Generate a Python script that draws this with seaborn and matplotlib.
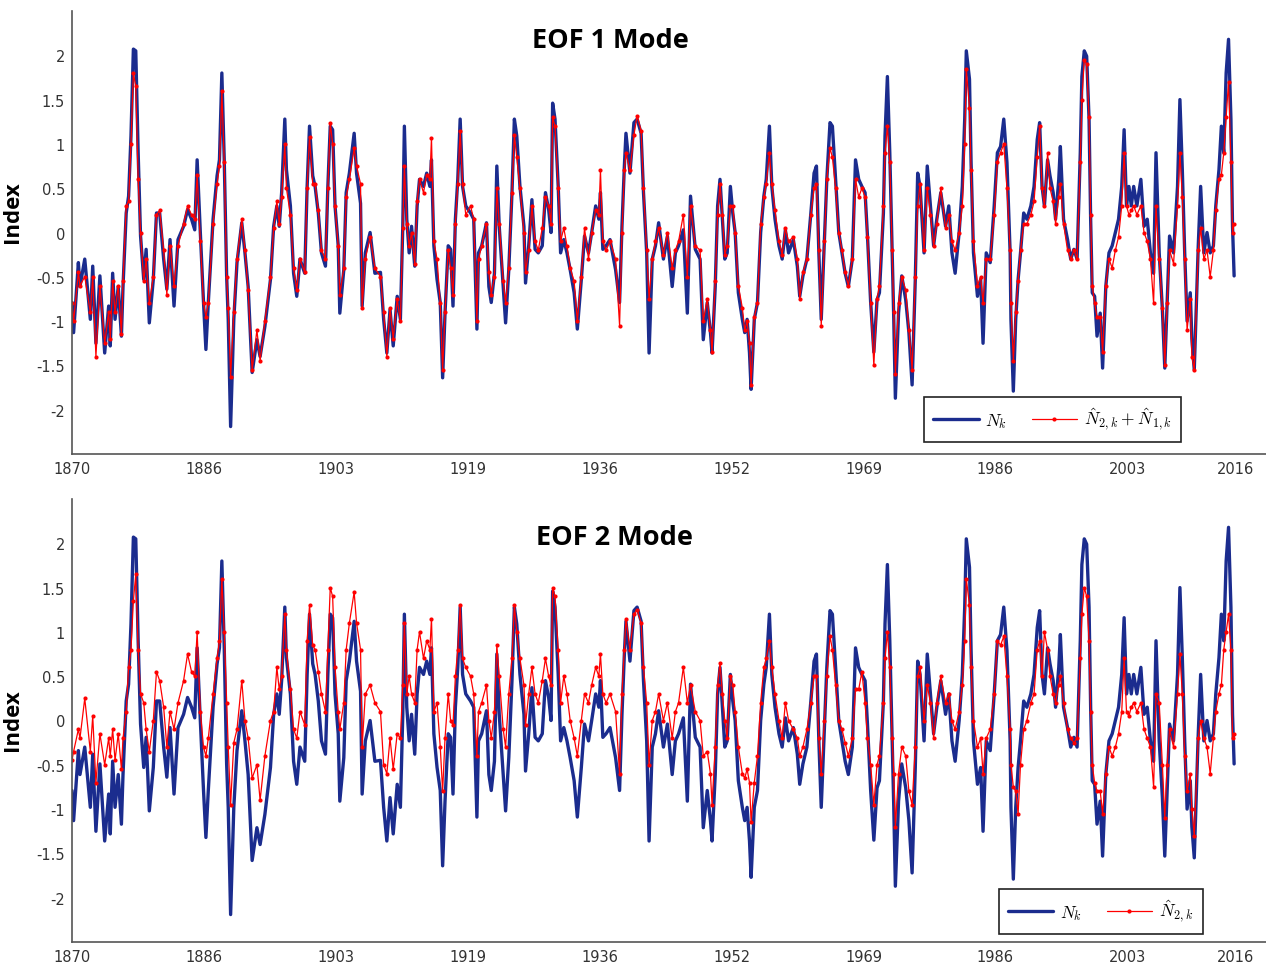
import numpy as np
import pandas as pd
import matplotlib
matplotlib.use("Agg")
import matplotlib.pyplot as plt
import seaborn as sns

# values (turning points of each curve)
years = [
    1870.0, 1870.2, 1870.8, 1871.0, 1871.6, 1872.3, 1872.6, 1873.0, 1873.5, 1874.1,
    1874.6, 1874.8, 1875.1, 1875.4, 1875.8, 1876.2, 1876.4, 1876.8, 1877.1, 1877.4,
    1877.7, 1878.0, 1878.3, 1878.6, 1879.0, 1879.3, 1879.7, 1880.2, 1880.6, 1881.0,
    1881.5, 1881.9, 1882.3, 1882.8, 1883.3, 1884.0, 1884.5, 1885.0, 1885.4, 1885.7,
    1886.1, 1886.5, 1886.8, 1887.1, 1887.7, 1888.2, 1888.5, 1888.8, 1889.1, 1889.4,
    1889.6, 1889.9, 1890.3, 1890.7, 1891.3, 1891.7, 1892.1, 1892.6, 1893.2, 1893.6,
    1894.2, 1894.9, 1895.3, 1895.7, 1896.0, 1896.3, 1896.7, 1896.9, 1897.4, 1897.8,
    1898.2, 1898.6, 1899.2, 1899.5, 1899.8, 1900.2, 1900.5, 1900.9, 1901.3, 1901.8,
    1902.1, 1902.4, 1902.7, 1903.0, 1903.4, 1903.6, 1904.1, 1904.4, 1904.8, 1905.4,
    1905.7, 1906.2, 1906.4, 1906.8, 1907.4, 1908.0, 1908.7, 1909.1, 1909.5, 1909.9,
    1910.3, 1910.8, 1911.2, 1911.5, 1911.7, 1912.0, 1912.3, 1912.6, 1913.0, 1913.3,
    1913.6, 1914.1, 1914.5, 1914.9, 1915.1, 1915.4, 1915.8, 1916.2, 1916.5, 1916.8,
    1917.2, 1917.5, 1917.8, 1918.1, 1918.4, 1918.7, 1919.0, 1919.4, 1920.0, 1920.4,
    1920.8, 1921.0, 1921.4, 1922.0, 1922.3, 1922.6, 1923.0, 1923.3, 1923.6, 1924.1,
    1924.4, 1924.8, 1925.2, 1925.5, 1925.8, 1926.2, 1926.7, 1926.9, 1927.3, 1927.7,
    1928.1, 1928.5, 1929.0, 1929.4, 1929.8, 1930.1, 1930.3, 1930.6, 1931.0, 1931.3,
    1931.7, 1932.1, 1932.5, 1933.0, 1933.4, 1933.9, 1934.3, 1934.8, 1935.2, 1935.7,
    1936.1, 1936.3, 1936.6, 1937.0, 1937.5, 1938.2, 1938.7, 1939.0, 1939.3, 1939.5,
    1940.0, 1940.5, 1940.9, 1941.4, 1941.7, 1942.1, 1942.4, 1942.8, 1943.2, 1943.6,
    1944.2, 1944.7, 1945.3, 1945.7, 1946.1, 1946.7, 1947.2, 1947.6, 1948.2, 1948.8,
    1949.2, 1949.7, 1950.1, 1950.3, 1950.7, 1951.0, 1951.3, 1951.6, 1951.9, 1952.2,
    1952.6, 1952.9, 1953.2, 1953.6, 1954.1, 1954.4, 1954.7, 1955.0, 1955.2, 1955.6,
    1956.0, 1956.4, 1956.8, 1957.1, 1957.5, 1957.8, 1958.2, 1958.7, 1959.1, 1959.5,
    1959.9, 1960.5, 1961.0, 1961.3, 1961.7, 1962.2, 1962.7, 1963.1, 1963.4, 1963.7,
    1964.0, 1964.4, 1964.7, 1965.1, 1965.4, 1965.8, 1966.2, 1966.6, 1967.0, 1967.4,
    1967.9, 1968.3, 1968.7, 1969.1, 1969.5, 1969.8, 1970.2, 1970.6, 1971.0, 1971.3,
    1971.8, 1972.0, 1972.3, 1972.6, 1972.9, 1973.1, 1973.3, 1973.7, 1974.1, 1974.6,
    1975.0, 1975.4, 1975.8, 1976.1, 1976.4, 1976.9, 1977.3, 1977.7, 1978.1, 1978.5,
    1979.0, 1979.6, 1980.0, 1980.4, 1980.8, 1981.3, 1981.7, 1982.0, 1982.2, 1982.6,
    1982.8, 1983.1, 1983.6, 1984.0, 1984.3, 1984.7, 1985.2, 1985.7, 1986.1, 1986.5,
    1986.9, 1987.3, 1987.7, 1987.8, 1988.1, 1988.4, 1988.7, 1989.0, 1989.4, 1989.8,
    1990.3, 1990.7, 1991.1, 1991.4, 1991.7, 1992.0, 1992.4, 1992.7, 1993.1, 1993.4,
    1993.8, 1994.0, 1994.4, 1994.9, 1995.3, 1995.7, 1996.1, 1996.5, 1996.7, 1997.0,
    1997.3, 1997.6, 1997.8, 1998.0, 1998.3, 1998.6, 1999.0, 1999.3, 1999.7, 2000.1,
    2000.5, 2000.9, 2001.3, 2001.7, 2002.0, 2002.3, 2002.6, 2002.9, 2003.2, 2003.6,
    2004.1, 2004.5, 2004.9, 2005.3, 2005.7, 2006.0, 2006.4, 2006.8, 2007.1, 2007.4,
    2007.7, 2008.2, 2008.7, 2009.0, 2009.3, 2009.6, 2009.9, 2010.3, 2010.5, 2010.8,
    2011.3, 2011.6, 2012.0, 2012.4, 2012.8, 2013.2, 2013.5, 2013.9, 2014.2, 2014.5,
    2014.8, 2015.1, 2015.4, 2015.6, 2015.8,
]

# N_k (observed index, same in both panels)
n_k = [
    -0.79, -1.13, -0.34, -0.61, -0.30, -0.98, -0.38, -1.25, -0.49, -1.36,
    -0.83, -1.28, -0.46, -0.98, -0.61, -1.17, -0.61, 0.22, 0.41, 1.09,
    2.07, 2.05, 0.90, -0.04, -0.53, -0.19, -1.02, -0.53, 0.22, 0.22,
    -0.30, -0.64, -0.08, -0.83, -0.08, 0.07, 0.26, 0.15, 0.03, 0.82,
    0.00, -0.79, -1.32, -0.79, 0.15, 0.64, 0.82, 1.80, 0.82, -0.49,
    -0.98, -2.19, -0.98, -0.34, 0.11, -0.23, -0.61, -1.58, -1.21, -1.40,
    -1.06, -0.53, 0.07, 0.30, 0.07, 0.45, 1.28, 0.71, 0.30, -0.46,
    -0.72, -0.30, -0.46, 0.52, 1.20, 0.64, 0.52, 0.22, -0.23, -0.38,
    0.52, 1.20, 1.16, 0.30, -0.15, -0.91, -0.42, 0.45, 0.67, 1.12,
    0.67, 0.33, -0.83, -0.23, 0.00, -0.46, -0.45, -0.98, -1.36, -0.87,
    -1.28, -0.72, -0.98, 0.07, 1.20, 0.15, -0.23, 0.07, -0.38, 0.30,
    0.60, 0.52, 0.67, 0.52, 0.82, -0.15, -0.53, -0.79, -1.64, -0.91,
    -0.15, -0.19, -0.83, 0.15, 0.60, 1.28, 0.52, 0.30, 0.22, 0.15,
    -1.09, -0.23, -0.15, 0.11, -0.61, -0.79, -0.46, 0.75, 0.07, -0.61,
    -1.02, -0.42, 0.45, 1.28, 1.09, 0.52, 0.07, -0.57, -0.15, 0.37,
    -0.19, -0.23, -0.15, 0.45, 0.26, 0.00, 1.46, 1.28, 0.52, -0.23,
    -0.08, -0.23, -0.42, -0.68, -1.09, -0.53, -0.04, -0.23, 0.00, 0.30,
    0.15, 0.45, -0.19, -0.15, -0.08, -0.42, -0.79, 0.07, 0.75, 1.12,
    0.67, 1.24, 1.28, 1.12, 0.45, -0.23, -1.36, -0.30, -0.15, 0.11,
    -0.30, -0.04, -0.61, -0.23, -0.15, 0.03, -0.91, 0.41, -0.19, -0.30,
    -1.21, -0.79, -1.13, -1.36, -0.61, 0.30, 0.60, 0.15, -0.30, -0.23,
    0.52, 0.22, 0.00, -0.68, -0.98, -1.13, -0.98, -1.36, -1.77, -0.98,
    -0.79, 0.00, 0.41, 0.60, 1.20, 0.52, 0.15, -0.15, -0.30, 0.03,
    -0.23, -0.08, -0.38, -0.72, -0.49, -0.30, 0.22, 0.67, 0.75, -0.23,
    -0.98, -0.08, 0.60, 1.24, 1.20, 0.60, 0.00, -0.23, -0.46, -0.61,
    -0.30, 0.82, 0.60, 0.52, 0.45, -0.04, -0.79, -1.35, -0.76, -0.68,
    0.22, 1.09, 1.76, 0.90, -0.23, -0.98, -1.87, -0.91, -0.49, -0.76,
    -1.13, -1.72, -0.53, 0.67, 0.52, -0.23, 0.75, 0.30, -0.15, 0.15,
    0.45, 0.07, 0.30, -0.23, -0.46, 0.00, 0.52, 1.28, 2.05, 1.73,
    0.79, -0.23, -0.72, -0.53, -1.25, -0.23, -0.34, 0.30, 0.90, 0.97,
    1.28, 0.79, -0.23, -0.98, -1.79, -0.98, -0.53, -0.23, 0.22, 0.15,
    0.30, 0.52, 1.05, 1.24, 0.52, 0.30, 0.82, 0.64, 0.45, 0.15,
    0.60, 0.97, 0.15, -0.08, -0.30, -0.19, -0.30, 0.90, 1.76, 2.05,
    1.99, 1.28, 0.15, -0.68, -0.72, -1.17, -0.91, -1.53, -0.61, -0.23,
    -0.15, 0.00, 0.15, 0.52, 1.16, 0.30, 0.52, 0.30, 0.52, 0.30,
    0.60, 0.07, 0.15, -0.23, -0.46, 0.90, -0.23, -0.87, -1.53, -0.79,
    -0.04, -0.23, 0.52, 1.50, 0.71, -0.23, -1.00, -0.68, -1.20, -1.55,
    -0.15, 0.52, -0.23, 0.00, -0.23, -0.15, 0.30, 0.71, 1.20, 0.90,
    1.80, 2.18, 1.28, 0.07, -0.49,
]

# N^_2,k + N^_1,k (EOF 1 panel)
n_hat_sum = [
    -0.80, -1.00, -0.45, -0.60, -0.50, -0.90, -0.50, -1.40, -0.60, -1.25,
    -0.90, -1.20, -0.55, -0.90, -0.60, -1.15, -0.55, 0.30, 0.35, 1.00,
    1.80, 1.65, 0.60, 0.00, -0.55, -0.30, -0.80, -0.50, 0.20, 0.25,
    -0.20, -0.70, -0.15, -0.60, -0.15, 0.10, 0.30, 0.20, 0.15, 0.65,
    -0.10, -0.80, -0.95, -0.80, 0.10, 0.55, 0.75, 1.60, 0.80, -0.50,
    -0.85, -1.63, -0.90, -0.30, 0.15, -0.20, -0.65, -1.55, -1.10, -1.45,
    -1.00, -0.50, 0.05, 0.35, 0.10, 0.40, 1.00, 0.50, 0.20, -0.40,
    -0.65, -0.30, -0.45, 0.50, 1.08, 0.55, 0.55, 0.25, -0.20, -0.30,
    0.50, 1.24, 1.00, 0.30, -0.15, -0.70, -0.40, 0.40, 0.60, 0.95,
    0.75, 0.55, -0.85, -0.30, -0.05, -0.40, -0.50, -0.90, -1.40, -0.85,
    -1.20, -0.75, -1.00, 0.05, 0.75, 0.10, -0.15, 0.00, -0.35, 0.35,
    0.60, 0.45, 0.65, 0.60, 1.07, -0.10, -0.30, -0.80, -1.55, -0.90,
    -0.20, -0.40, -0.70, 0.10, 0.55, 1.15, 0.55, 0.20, 0.30, 0.15,
    -1.00, -0.30, -0.15, 0.10, -0.45, -0.70, -0.50, 0.50, 0.10, -0.55,
    -0.80, -0.40, 0.45, 1.10, 0.85, 0.50, 0.00, -0.45, -0.20, 0.30,
    -0.10, -0.20, 0.05, 0.40, 0.30, 0.10, 1.30, 1.20, 0.50, -0.10,
    0.05, -0.15, -0.40, -0.55, -1.00, -0.50, 0.05, -0.30, 0.00, 0.25,
    0.20, 0.70, -0.10, -0.20, -0.10, -0.30, -1.05, 0.00, 0.70, 0.90,
    0.70, 1.10, 1.32, 1.15, 0.50, -0.20, -0.75, -0.30, -0.10, 0.05,
    -0.25, 0.00, -0.40, -0.20, -0.10, 0.20, -0.50, 0.30, -0.15, -0.20,
    -1.00, -0.75, -1.10, -1.35, -0.55, 0.20, 0.55, 0.20, -0.25, -0.15,
    0.30, 0.30, 0.00, -0.60, -0.85, -1.10, -1.00, -1.25, -1.72, -0.95,
    -0.80, 0.10, 0.40, 0.55, 0.90, 0.55, 0.25, -0.10, -0.25, 0.05,
    -0.10, -0.05, -0.30, -0.75, -0.45, -0.30, 0.20, 0.50, 0.55, -0.20,
    -1.05, -0.10, 0.60, 0.95, 0.85, 0.50, 0.00, -0.20, -0.45, -0.60,
    -0.30, 0.60, 0.40, 0.50, 0.40, -0.05, -0.80, -1.50, -0.75, -0.60,
    0.30, 0.90, 1.20, 0.80, -0.20, -0.90, -1.60, -0.80, -0.50, -0.65,
    -1.10, -1.55, -0.50, 0.30, 0.55, -0.20, 0.50, 0.20, -0.15, 0.10,
    0.50, 0.05, 0.20, -0.10, -0.20, 0.00, 0.30, 1.00, 1.85, 1.40,
    0.70, -0.10, -0.60, -0.50, -0.80, -0.30, -0.30, 0.20, 0.80, 0.90,
    1.00, 0.50, -0.20, -0.80, -1.45, -0.90, -0.55, -0.20, 0.10, 0.10,
    0.20, 0.35, 0.85, 1.20, 0.50, 0.30, 0.90, 0.50, 0.35, 0.10,
    0.40, 0.55, 0.10, -0.20, -0.30, -0.20, -0.30, 0.80, 1.50, 1.95,
    1.90, 1.30, 0.20, -0.60, -0.80, -0.95, -0.95, -1.35, -0.60, -0.30,
    -0.40, -0.20, -0.05, 0.30, 0.90, 0.30, 0.20, 0.25, 0.30, 0.20,
    0.30, 0.00, -0.10, -0.30, -0.80, 0.30, -0.30, -0.85, -1.50, -0.80,
    -0.20, -0.35, 0.30, 0.90, 0.40, -0.30, -1.10, -0.75, -1.40, -1.55,
    -0.20, 0.05, -0.30, -0.20, -0.50, -0.20, 0.25, 0.60, 0.65, 0.90,
    1.30, 1.70, 0.80, 0.00, 0.10,
]

# N^_2,k (EOF 2 panel)
n_hat_2 = [
    -0.45, -0.35, -0.10, -0.20, 0.25, -0.35, 0.05, -0.70, -0.15, -0.50,
    -0.20, -0.40, -0.10, -0.45, -0.15, -0.55, -0.20, 0.10, 0.60, 0.80,
    1.35, 1.65, 0.80, 0.30, 0.20, -0.10, -0.35, 0.00, 0.55, 0.45,
    0.15, -0.30, 0.10, -0.10, 0.20, 0.45, 0.75, 0.55, 0.50, 1.00,
    0.10, -0.30, -0.40, -0.20, 0.30, 0.70, 0.90, 1.60, 1.00, 0.20,
    -0.30, -0.95, -0.25, -0.10, 0.45, 0.00, -0.20, -0.65, -0.50, -0.90,
    -0.40, 0.00, 0.10, 0.60, 0.35, 0.50, 1.20, 0.80, 0.35, -0.10,
    -0.20, 0.10, -0.05, 0.90, 1.30, 0.85, 0.80, 0.55, 0.30, 0.10,
    0.80, 1.50, 1.40, 0.60, 0.10, -0.10, 0.20, 0.80, 1.10, 1.45,
    1.10, 0.80, -0.30, 0.30, 0.40, 0.20, 0.10, -0.50, -0.60, -0.20,
    -0.55, -0.15, -0.20, 0.40, 1.10, 0.30, 0.50, 0.30, 0.20, 0.80,
    1.00, 0.70, 0.90, 0.80, 1.15, 0.10, 0.20, -0.30, -0.80, -0.20,
    0.30, 0.00, -0.05, 0.50, 0.80, 1.30, 0.70, 0.60, 0.50, 0.30,
    -0.40, 0.10, 0.20, 0.40, 0.00, -0.20, 0.10, 0.85, 0.50, -0.10,
    -0.30, 0.30, 0.70, 1.30, 1.00, 0.70, 0.40, -0.05, 0.30, 0.60,
    0.30, 0.20, 0.45, 0.70, 0.50, 0.40, 1.50, 1.40, 0.80, 0.20,
    0.50, 0.30, 0.00, -0.20, -0.40, 0.00, 0.30, 0.20, 0.40, 0.60,
    0.50, 0.75, 0.30, 0.20, 0.30, 0.10, -0.60, 0.30, 0.80, 1.15,
    0.80, 1.20, 1.25, 1.10, 0.60, 0.20, -0.50, 0.00, 0.10, 0.30,
    0.00, 0.20, -0.20, 0.10, 0.20, 0.60, 0.20, 0.40, 0.10, 0.00,
    -0.40, -0.35, -0.60, -0.95, -0.30, 0.40, 0.65, 0.30, 0.00, -0.20,
    0.50, 0.40, 0.10, -0.30, -0.60, -0.65, -0.55, -0.70, -1.15, -0.70,
    -0.40, 0.20, 0.60, 0.70, 0.90, 0.60, 0.30, 0.00, -0.20, 0.20,
    0.00, -0.10, -0.20, -0.40, -0.30, -0.10, 0.20, 0.50, 0.50, -0.20,
    -0.60, 0.00, 0.50, 0.95, 0.80, 0.40, 0.00, -0.10, -0.25, -0.40,
    -0.20, 0.35, 0.35, 0.55, 0.20, -0.20, -0.50, -0.95, -0.50, -0.40,
    0.20, 0.70, 1.00, 0.60, -0.20, -0.60, -1.20, -0.60, -0.30, -0.40,
    -0.80, -0.95, -0.30, 0.50, 0.60, 0.00, 0.40, 0.20, -0.20, 0.20,
    0.50, 0.20, 0.30, 0.00, -0.10, 0.10, 0.40, 0.90, 1.60, 1.30,
    0.60, 0.00, -0.30, -0.20, -0.60, -0.20, -0.10, 0.30, 0.90, 0.85,
    0.95, 0.50, -0.10, -0.50, -0.75, -0.80, -1.05, -0.50, -0.10, 0.00,
    0.20, 0.30, 0.80, 0.90, 0.50, 1.00, 0.80, 0.50, 0.30, 0.20,
    0.40, 0.50, 0.20, -0.10, -0.20, -0.25, -0.20, 0.70, 1.20, 1.50,
    1.40, 0.90, 0.10, -0.50, -0.70, -0.80, -0.80, -1.05, -0.60, -0.30,
    -0.40, -0.30, -0.15, 0.10, 0.70, 0.10, 0.05, 0.15, 0.20, 0.10,
    0.20, -0.10, -0.20, -0.30, -0.75, 0.30, 0.20, -0.50, -1.10, -0.50,
    -0.10, -0.30, 0.30, 0.75, 0.30, -0.40, -0.80, -0.60, -1.00, -1.30,
    -0.20, 0.00, -0.20, -0.30, -0.60, -0.20, 0.10, 0.30, 0.40, 0.80,
    1.00, 1.20, 0.80, -0.20, -0.15,
]

tick_labels = ["1870", "1886", "1903", "1919", "1936", "1952", "1969", "1986", "2003", "2016"]
panel_titles = ["EOF 1 Mode", "EOF 2 Mode"]
red_labels = [r"$\hat{N}_{2,k} + \hat{N}_{1,k}$", r"$\hat{N}_{2,k}$"]

df = pd.DataFrame({"year": years, "nk": n_k, "eof1": n_hat_sum, "eof2": n_hat_2})

sns.set_style("white")
plt.rcParams["font.family"] = ["DejaVu Sans"]
plt.rcParams["mathtext.fontset"] = "cm"
plt.rcParams["text.color"] = "black"

blue = "#1b2c8e"
red = "#ff0000"

fig = plt.figure(figsize=(12.66, 9.70), dpi=100)
ax_top = fig.add_axes([72 / 1266, 515 / 970, 1194 / 1266, 443 / 970])
ax_bot = fig.add_axes([72 / 1266, 27 / 970, 1194 / 1266, 443 / 970])

major_x = [1870 + k * 16.55 for k in range(9)] + [2016]
minor_x = [1870 + j * 3.31 for j in range(41)] + [2009.2]

settings = [
    (ax_top, "eof1", 0, (0.929, 0.027), 0.935, 0.451, 0.549),
    (ax_bot, "eof2", 1, (0.947, 0.018), 0.914, 0.454, 0.503),
]

for ax, col, i, leg_anchor, title_y, title_x, lab_y in settings:
    sns.lineplot(data=df, x="year", y="nk", ax=ax, color=blue, lw=2.4,
                 label=r"$N_k$", sort=False, estimator=None)
    sns.lineplot(data=df, x="year", y=col, ax=ax, color=red, lw=0.9,
                 marker=".", markersize=6, markeredgewidth=0,
                 label=red_labels[i], sort=False, estimator=None)

    ax.set_xlim(1870, 2019.8)
    ax.set_ylim(-2.5, 2.5)
    ax.set_xticks(major_x)
    ax.set_xticklabels(tick_labels)
    ax.set_xticks(minor_x, minor=True)
    ax.set_yticks(np.arange(-2, 2.01, 0.5))
    ax.yaxis.set_major_formatter(plt.FuncFormatter(lambda v, p: f"{v:g}"))
    ax.tick_params(axis="both", which="major", direction="in", length=8,
                   width=1, color="#444444", labelsize=10.5, pad=5,
                   labelcolor="#333333")
    ax.tick_params(axis="x", which="minor", direction="in", length=4,
                   width=1, color="#444444")

    sns.despine(ax=ax)
    for side in ["left", "bottom"]:
        ax.spines[side].set_color("#555555")
        ax.spines[side].set_linewidth(1.2)

    ax.set_xlabel("")
    ax.set_ylabel("Index", fontsize=16, fontweight="bold", color="black",
                  family=["Open Sans", "DejaVu Sans"])
    ax.yaxis.set_label_coords(-0.041, lab_y)

    ax.text(title_x, title_y, panel_titles[i], transform=ax.transAxes,
            ha="center", va="center", fontsize=19.5, fontweight="bold",
            color="black", family=["Open Sans", "DejaVu Sans"])

    leg = ax.legend(ncol=2, loc="lower right", bbox_to_anchor=leg_anchor,
                    borderaxespad=0, frameon=True, fancybox=False, framealpha=1,
                    edgecolor="#222222", fontsize=12.5, handlelength=2.6,
                    columnspacing=1.4, borderpad=0.55, handletextpad=0.4)
    leg.get_frame().set_linewidth(1.2)

fig.savefig("out.png", dpi=100)
